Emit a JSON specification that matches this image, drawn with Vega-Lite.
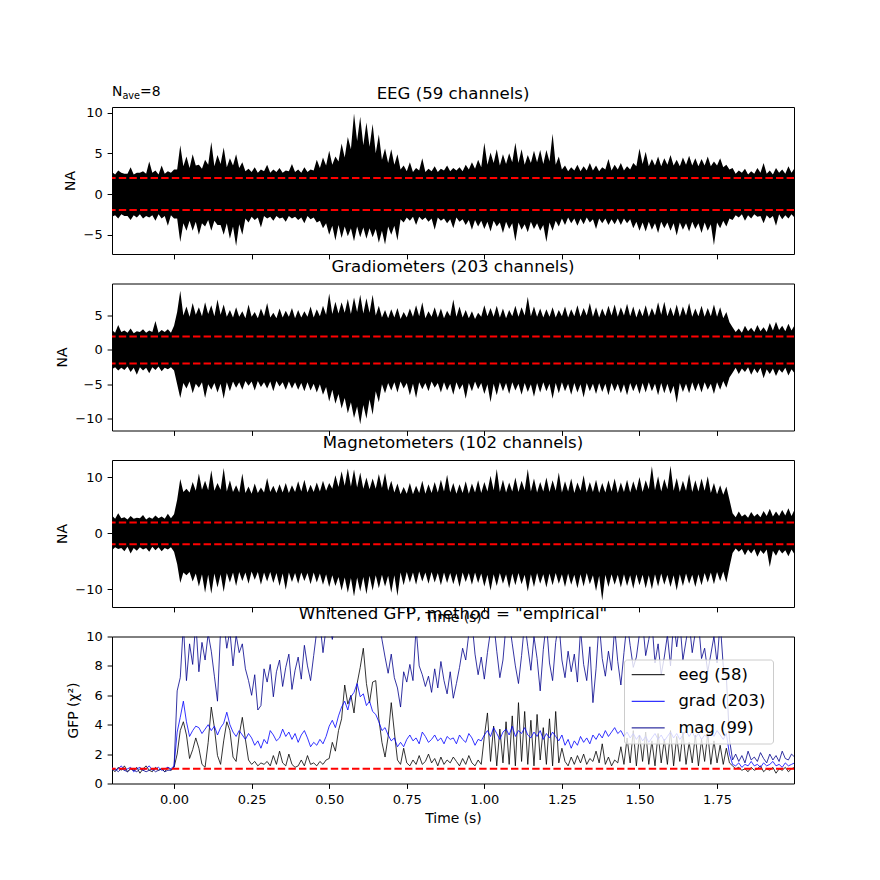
{
"$schema": "https://vega.github.io/schema/vega-lite/v6.json",
"background": "white",
"padding": {"left": 54, "top": 84, "right": 5, "bottom": 5},
"bounds": "flush",
"spacing": 29.5,
"resolve": {"scale": {"color": "independent"}, "legend": {"color": "independent"}},
"config": {
 "font": "DejaVu Sans",
 "view": {"stroke": "black", "strokeWidth": 1},
 "axis": {"domain": false, "grid": false, "tickColor": "black", "tickSize": 4.9, "tickWidth": 1, "labelColor": "black", "labelFontSize": 13, "labelPadding": 4.9, "labelFlush": false, "labelOverlap": false, "titleFontSize": 13.9, "titleFontWeight": "normal", "titleColor": "black", "titlePadding": 5.6},
 "title": {"fontSize": 16.6, "fontWeight": "normal", "color": "black", "frame": "group", "offset": 8.3, "baseline": "alphabetic"}
},
"datasets": {
 "p1": [
{"t":-0.20,"lo":-2.8,"hi":2.7},{"t":-0.18,"lo":-3.0,"hi":2.9},{"t":-0.16,"lo":-2.7,"hi":2.5},{"t":-0.14,"lo":-3.2,"hi":3.3},{"t":-0.12,"lo":-2.9,"hi":2.6},{"t":-0.10,"lo":-3.0,"hi":2.8},{"t":-0.08,"lo":-2.9,"hi":4.0},{"t":-0.06,"lo":-3.3,"hi":2.9},{"t":-0.04,"lo":-3.0,"hi":3.5},{"t":-0.02,"lo":-3.9,"hi":2.8},
{"t":0.00,"lo":-3.0,"hi":3.0},{"t":0.02,"lo":-5.9,"hi":6.0},{"t":0.04,"lo":-4.5,"hi":4.6},{"t":0.06,"lo":-4.5,"hi":4.9},{"t":0.08,"lo":-5.0,"hi":3.6},{"t":0.10,"lo":-4.0,"hi":4.2},{"t":0.12,"lo":-4.5,"hi":6.4},{"t":0.14,"lo":-3.8,"hi":4.8},{"t":0.16,"lo":-5.0,"hi":5.7},{"t":0.18,"lo":-5.5,"hi":4.4},
{"t":0.20,"lo":-6.4,"hi":4.9},{"t":0.22,"lo":-5.0,"hi":3.9},{"t":0.24,"lo":-3.5,"hi":3.1},{"t":0.26,"lo":-3.2,"hi":3.3},{"t":0.28,"lo":-4.1,"hi":3.0},{"t":0.30,"lo":-3.0,"hi":3.6},{"t":0.32,"lo":-3.3,"hi":3.0},{"t":0.34,"lo":-3.0,"hi":3.2},{"t":0.36,"lo":-3.4,"hi":2.9},{"t":0.38,"lo":-3.0,"hi":3.7},
{"t":0.40,"lo":-3.2,"hi":3.0},{"t":0.42,"lo":-3.6,"hi":3.3},{"t":0.44,"lo":-3.1,"hi":3.0},{"t":0.46,"lo":-3.5,"hi":4.2},{"t":0.48,"lo":-4.2,"hi":4.5},{"t":0.50,"lo":-5.0,"hi":5.3},{"t":0.52,"lo":-5.7,"hi":4.6},{"t":0.54,"lo":-5.4,"hi":6.2},{"t":0.56,"lo":-5.2,"hi":7.0},{"t":0.58,"lo":-5.8,"hi":9.9},
{"t":0.60,"lo":-5.3,"hi":9.5},{"t":0.62,"lo":-5.5,"hi":8.8},{"t":0.64,"lo":-5.3,"hi":8.6},{"t":0.66,"lo":-6.0,"hi":7.3},{"t":0.68,"lo":-6.2,"hi":5.6},{"t":0.70,"lo":-5.0,"hi":5.5},{"t":0.72,"lo":-5.7,"hi":4.9},{"t":0.74,"lo":-3.5,"hi":3.5},{"t":0.76,"lo":-3.3,"hi":3.9},{"t":0.78,"lo":-3.8,"hi":3.2},
{"t":0.80,"lo":-3.2,"hi":4.4},{"t":0.82,"lo":-3.4,"hi":3.1},{"t":0.84,"lo":-4.4,"hi":3.4},{"t":0.86,"lo":-3.3,"hi":3.1},{"t":0.88,"lo":-3.6,"hi":3.5},{"t":0.90,"lo":-4.2,"hi":3.2},{"t":0.92,"lo":-3.4,"hi":3.3},{"t":0.94,"lo":-3.8,"hi":3.6},{"t":0.96,"lo":-4.4,"hi":3.9},{"t":0.98,"lo":-4.0,"hi":4.2},
{"t":1.00,"lo":-4.3,"hi":6.3},{"t":1.02,"lo":-4.6,"hi":5.1},{"t":1.04,"lo":-4.0,"hi":5.5},{"t":1.06,"lo":-4.8,"hi":4.9},{"t":1.08,"lo":-4.3,"hi":5.0},{"t":1.10,"lo":-5.8,"hi":6.3},{"t":1.12,"lo":-4.4,"hi":5.5},{"t":1.14,"lo":-4.7,"hi":4.8},{"t":1.16,"lo":-4.3,"hi":5.3},{"t":1.18,"lo":-4.5,"hi":5.4},
{"t":1.20,"lo":-5.9,"hi":5.4},{"t":1.22,"lo":-4.5,"hi":7.4},{"t":1.24,"lo":-4.0,"hi":4.6},{"t":1.26,"lo":-3.8,"hi":3.5},{"t":1.28,"lo":-3.6,"hi":3.3},{"t":1.30,"lo":-3.9,"hi":3.6},{"t":1.32,"lo":-3.7,"hi":3.4},{"t":1.34,"lo":-3.5,"hi":3.8},{"t":1.36,"lo":-4.3,"hi":3.5},{"t":1.38,"lo":-3.6,"hi":3.3},
{"t":1.40,"lo":-3.8,"hi":4.3},{"t":1.42,"lo":-3.7,"hi":3.6},{"t":1.44,"lo":-3.8,"hi":3.8},{"t":1.46,"lo":-3.6,"hi":3.4},{"t":1.48,"lo":-4.2,"hi":3.8},{"t":1.50,"lo":-4.5,"hi":5.6},{"t":1.52,"lo":-4.6,"hi":5.2},{"t":1.54,"lo":-4.4,"hi":4.3},{"t":1.56,"lo":-4.8,"hi":4.6},{"t":1.58,"lo":-4.2,"hi":4.4},
{"t":1.60,"lo":-4.5,"hi":4.8},{"t":1.62,"lo":-5.1,"hi":4.2},{"t":1.64,"lo":-4.4,"hi":4.5},{"t":1.66,"lo":-4.6,"hi":4.7},{"t":1.68,"lo":-4.3,"hi":4.4},{"t":1.70,"lo":-4.8,"hi":4.3},{"t":1.72,"lo":-4.5,"hi":4.6},{"t":1.74,"lo":-6.3,"hi":4.0},{"t":1.76,"lo":-4.2,"hi":4.4},{"t":1.78,"lo":-4.0,"hi":3.6},
{"t":1.80,"lo":-3.2,"hi":3.2},{"t":1.82,"lo":-2.9,"hi":2.9},{"t":1.84,"lo":-3.3,"hi":3.1},{"t":1.86,"lo":-3.0,"hi":2.8},{"t":1.88,"lo":-2.8,"hi":3.2},{"t":1.90,"lo":-3.6,"hi":3.8},{"t":1.92,"lo":-3.0,"hi":2.9},{"t":1.94,"lo":-3.9,"hi":3.2},{"t":1.96,"lo":-3.1,"hi":3.0},{"t":1.98,"lo":-3.0,"hi":3.4},{"t":2.00,"lo":-2.9,"hi":3.2},
{"t":-0.19,"lo":-2.6,"hi":2.4},{"t":-0.17,"lo":-2.5,"hi":2.6},{"t":-0.15,"lo":-2.7,"hi":2.5},{"t":-0.13,"lo":-2.6,"hi":2.4},{"t":-0.11,"lo":-2.5,"hi":2.6},{"t":-0.09,"lo":-2.7,"hi":2.5},{"t":-0.07,"lo":-2.6,"hi":2.6},{"t":-0.05,"lo":-2.5,"hi":2.4},{"t":-0.03,"lo":-2.7,"hi":2.5},{"t":-0.01,"lo":-2.6,"hi":2.6},
{"t":0.01,"lo":-3.0,"hi":3.0},{"t":0.03,"lo":-3.6,"hi":3.4},{"t":0.05,"lo":-3.3,"hi":3.2},{"t":0.07,"lo":-3.4,"hi":3.5},{"t":0.09,"lo":-3.6,"hi":3.1},{"t":0.11,"lo":-3.2,"hi":3.6},{"t":0.13,"lo":-3.3,"hi":3.4},{"t":0.15,"lo":-3.8,"hi":3.7},{"t":0.17,"lo":-3.6,"hi":3.3},{"t":0.19,"lo":-4.0,"hi":3.5},
{"t":0.21,"lo":-3.7,"hi":3.2},{"t":0.23,"lo":-3.0,"hi":2.8},{"t":0.25,"lo":-2.8,"hi":2.7},{"t":0.27,"lo":-2.9,"hi":2.6},{"t":0.29,"lo":-2.7,"hi":2.8},{"t":0.31,"lo":-2.8,"hi":2.6},{"t":0.33,"lo":-2.7,"hi":2.7},{"t":0.35,"lo":-2.9,"hi":2.6},{"t":0.37,"lo":-2.7,"hi":2.8},{"t":0.39,"lo":-2.8,"hi":2.7},
{"t":0.41,"lo":-2.9,"hi":2.6},{"t":0.43,"lo":-2.7,"hi":2.7},{"t":0.45,"lo":-2.9,"hi":2.9},{"t":0.47,"lo":-3.3,"hi":3.2},{"t":0.49,"lo":-3.6,"hi":3.5},{"t":0.51,"lo":-3.9,"hi":3.6},{"t":0.53,"lo":-3.8,"hi":4.0},{"t":0.55,"lo":-4.0,"hi":4.5},{"t":0.57,"lo":-4.2,"hi":5.5},{"t":0.59,"lo":-4.0,"hi":6.5},
{"t":0.61,"lo":-4.1,"hi":6.0},{"t":0.63,"lo":-4.2,"hi":5.8},{"t":0.65,"lo":-4.3,"hi":5.0},{"t":0.67,"lo":-4.5,"hi":4.2},{"t":0.69,"lo":-4.0,"hi":3.8},{"t":0.71,"lo":-3.9,"hi":3.6},{"t":0.73,"lo":-3.1,"hi":3.0},{"t":0.75,"lo":-2.9,"hi":2.8},{"t":0.77,"lo":-2.8,"hi":2.7},{"t":0.79,"lo":-2.8,"hi":2.9},
{"t":0.81,"lo":-2.9,"hi":2.7},{"t":0.83,"lo":-3.0,"hi":2.8},{"t":0.85,"lo":-2.9,"hi":2.7},{"t":0.87,"lo":-3.0,"hi":2.9},{"t":0.89,"lo":-3.1,"hi":2.8},{"t":0.91,"lo":-2.9,"hi":2.9},{"t":0.93,"lo":-3.1,"hi":2.8},{"t":0.95,"lo":-3.2,"hi":3.0},{"t":0.97,"lo":-3.2,"hi":3.1},{"t":0.99,"lo":-3.3,"hi":3.3},
{"t":1.01,"lo":-3.4,"hi":3.6},{"t":1.03,"lo":-3.3,"hi":3.8},{"t":1.05,"lo":-3.5,"hi":3.5},{"t":1.07,"lo":-3.4,"hi":3.7},{"t":1.09,"lo":-3.6,"hi":3.9},{"t":1.11,"lo":-3.5,"hi":3.8},{"t":1.13,"lo":-3.7,"hi":3.6},{"t":1.15,"lo":-3.4,"hi":3.8},{"t":1.17,"lo":-3.6,"hi":3.9},{"t":1.19,"lo":-3.8,"hi":3.7},
{"t":1.21,"lo":-3.5,"hi":4.0},{"t":1.23,"lo":-3.3,"hi":3.6},{"t":1.25,"lo":-3.0,"hi":3.0},{"t":1.27,"lo":-2.9,"hi":2.8},{"t":1.29,"lo":-3.0,"hi":2.9},{"t":1.31,"lo":-3.0,"hi":2.8},{"t":1.33,"lo":-2.9,"hi":2.9},{"t":1.35,"lo":-3.1,"hi":2.9},{"t":1.37,"lo":-3.0,"hi":2.8},{"t":1.39,"lo":-3.0,"hi":3.0},
{"t":1.41,"lo":-3.1,"hi":2.9},{"t":1.43,"lo":-3.0,"hi":3.0},{"t":1.45,"lo":-3.0,"hi":2.9},{"t":1.47,"lo":-3.1,"hi":3.0},{"t":1.49,"lo":-3.4,"hi":3.4},{"t":1.51,"lo":-3.5,"hi":3.7},{"t":1.53,"lo":-3.4,"hi":3.4},{"t":1.55,"lo":-3.6,"hi":3.5},{"t":1.57,"lo":-3.4,"hi":3.4},{"t":1.59,"lo":-3.5,"hi":3.6},
{"t":1.61,"lo":-3.6,"hi":3.5},{"t":1.63,"lo":-3.5,"hi":3.4},{"t":1.65,"lo":-3.6,"hi":3.6},{"t":1.67,"lo":-3.4,"hi":3.5},{"t":1.69,"lo":-3.6,"hi":3.4},{"t":1.71,"lo":-3.5,"hi":3.5},{"t":1.73,"lo":-3.7,"hi":3.4},{"t":1.75,"lo":-3.5,"hi":3.5},{"t":1.77,"lo":-3.3,"hi":3.3},{"t":1.79,"lo":-3.0,"hi":3.0},
{"t":1.81,"lo":-2.6,"hi":2.5},{"t":1.83,"lo":-2.5,"hi":2.6},{"t":1.85,"lo":-2.6,"hi":2.4},{"t":1.87,"lo":-2.5,"hi":2.5},{"t":1.89,"lo":-2.7,"hi":2.6},{"t":1.91,"lo":-2.6,"hi":2.5},{"t":1.93,"lo":-2.7,"hi":2.4},{"t":1.95,"lo":-2.5,"hi":2.6},{"t":1.97,"lo":-2.6,"hi":2.5},{"t":1.99,"lo":-2.5,"hi":2.6}
 ],
 "p2": [
{"t":-0.20,"lo":-2.8,"hi":2.9},{"t":-0.18,"lo":-3.0,"hi":3.6},{"t":-0.16,"lo":-2.9,"hi":2.8},{"t":-0.14,"lo":-3.2,"hi":3.1},{"t":-0.12,"lo":-3.6,"hi":2.7},{"t":-0.10,"lo":-3.0,"hi":3.0},{"t":-0.08,"lo":-3.4,"hi":2.8},{"t":-0.06,"lo":-2.9,"hi":4.2},{"t":-0.04,"lo":-3.1,"hi":2.9},{"t":-0.02,"lo":-2.8,"hi":3.0},
{"t":0.00,"lo":-3.0,"hi":3.5},{"t":0.02,"lo":-7.0,"hi":8.6},{"t":0.04,"lo":-5.6,"hi":6.3},{"t":0.06,"lo":-6.3,"hi":6.8},{"t":0.08,"lo":-5.5,"hi":6.2},{"t":0.10,"lo":-7.0,"hi":6.9},{"t":0.12,"lo":-5.8,"hi":6.5},{"t":0.14,"lo":-6.2,"hi":7.3},{"t":0.16,"lo":-7.1,"hi":6.6},{"t":0.18,"lo":-6.0,"hi":5.8},
{"t":0.20,"lo":-5.5,"hi":6.2},{"t":0.22,"lo":-5.8,"hi":5.6},{"t":0.24,"lo":-5.2,"hi":6.6},{"t":0.26,"lo":-5.9,"hi":5.5},{"t":0.28,"lo":-5.4,"hi":6.0},{"t":0.30,"lo":-5.6,"hi":6.8},{"t":0.32,"lo":-6.0,"hi":5.4},{"t":0.34,"lo":-5.3,"hi":6.0},{"t":0.36,"lo":-5.8,"hi":5.7},{"t":0.38,"lo":-5.6,"hi":6.1},
{"t":0.40,"lo":-5.8,"hi":5.8},{"t":0.42,"lo":-6.0,"hi":5.6},{"t":0.44,"lo":-5.9,"hi":6.3},{"t":0.46,"lo":-6.2,"hi":5.9},{"t":0.48,"lo":-6.5,"hi":6.4},{"t":0.50,"lo":-7.5,"hi":8.2},{"t":0.52,"lo":-7.8,"hi":7.0},{"t":0.54,"lo":-8.5,"hi":6.9},{"t":0.56,"lo":-9.2,"hi":7.4},{"t":0.58,"lo":-9.9,"hi":7.6},
{"t":0.60,"lo":-10.8,"hi":8.0},{"t":0.62,"lo":-10.0,"hi":7.5},{"t":0.64,"lo":-9.4,"hi":8.0},{"t":0.66,"lo":-7.6,"hi":6.4},{"t":0.68,"lo":-6.3,"hi":5.8},{"t":0.70,"lo":-5.9,"hi":5.9},{"t":0.72,"lo":-6.2,"hi":6.1},{"t":0.74,"lo":-5.6,"hi":5.5},{"t":0.76,"lo":-6.6,"hi":6.0},{"t":0.78,"lo":-7.0,"hi":6.5},
{"t":0.80,"lo":-5.7,"hi":6.9},{"t":0.82,"lo":-6.0,"hi":5.6},{"t":0.84,"lo":-5.5,"hi":6.2},{"t":0.86,"lo":-6.2,"hi":6.0},{"t":0.88,"lo":-5.9,"hi":5.7},{"t":0.90,"lo":-6.5,"hi":7.3},{"t":0.92,"lo":-5.8,"hi":6.3},{"t":0.94,"lo":-7.1,"hi":5.8},{"t":0.96,"lo":-6.0,"hi":5.6},{"t":0.98,"lo":-5.7,"hi":5.4},
{"t":1.00,"lo":-6.4,"hi":6.5},{"t":1.02,"lo":-7.6,"hi":6.1},{"t":1.04,"lo":-6.6,"hi":6.4},{"t":1.06,"lo":-6.0,"hi":6.0},{"t":1.08,"lo":-6.4,"hi":5.8},{"t":1.10,"lo":-5.9,"hi":6.4},{"t":1.12,"lo":-6.5,"hi":6.2},{"t":1.14,"lo":-6.1,"hi":7.7},{"t":1.16,"lo":-6.8,"hi":6.3},{"t":1.18,"lo":-6.2,"hi":6.0},
{"t":1.20,"lo":-6.0,"hi":5.9},{"t":1.22,"lo":-7.1,"hi":6.2},{"t":1.24,"lo":-6.3,"hi":5.8},{"t":1.26,"lo":-6.0,"hi":6.3},{"t":1.28,"lo":-6.5,"hi":5.9},{"t":1.30,"lo":-6.2,"hi":6.5},{"t":1.32,"lo":-6.9,"hi":6.1},{"t":1.34,"lo":-6.0,"hi":6.8},{"t":1.36,"lo":-6.4,"hi":6.2},{"t":1.38,"lo":-6.1,"hi":6.0},
{"t":1.40,"lo":-6.6,"hi":6.4},{"t":1.42,"lo":-6.0,"hi":6.6},{"t":1.44,"lo":-6.3,"hi":6.2},{"t":1.46,"lo":-6.6,"hi":6.7},{"t":1.48,"lo":-6.0,"hi":6.3},{"t":1.50,"lo":-6.4,"hi":6.0},{"t":1.52,"lo":-6.2,"hi":6.5},{"t":1.54,"lo":-6.0,"hi":6.1},{"t":1.56,"lo":-6.6,"hi":6.9},{"t":1.58,"lo":-6.3,"hi":7.0},
{"t":1.60,"lo":-6.4,"hi":6.2},{"t":1.62,"lo":-7.7,"hi":6.6},{"t":1.64,"lo":-6.1,"hi":6.3},{"t":1.66,"lo":-6.3,"hi":6.8},{"t":1.68,"lo":-6.0,"hi":6.0},{"t":1.70,"lo":-6.2,"hi":6.4},{"t":1.72,"lo":-5.8,"hi":6.1},{"t":1.74,"lo":-6.4,"hi":6.6},{"t":1.76,"lo":-5.8,"hi":6.2},{"t":1.78,"lo":-5.5,"hi":5.5},
{"t":1.80,"lo":-3.3,"hi":3.3},{"t":1.82,"lo":-3.5,"hi":3.1},{"t":1.84,"lo":-3.2,"hi":3.5},{"t":1.86,"lo":-3.6,"hi":3.2},{"t":1.88,"lo":-3.4,"hi":3.6},{"t":1.90,"lo":-4.1,"hi":3.3},{"t":1.92,"lo":-3.5,"hi":3.9},{"t":1.94,"lo":-3.8,"hi":4.1},{"t":1.96,"lo":-3.3,"hi":3.5},{"t":1.98,"lo":-3.7,"hi":3.8},{"t":2.00,"lo":-3.4,"hi":3.6},
{"t":-0.19,"lo":-2.5,"hi":2.5},{"t":-0.17,"lo":-2.6,"hi":2.6},{"t":-0.15,"lo":-2.4,"hi":2.5},{"t":-0.13,"lo":-2.6,"hi":2.4},{"t":-0.11,"lo":-2.5,"hi":2.6},{"t":-0.09,"lo":-2.6,"hi":2.5},{"t":-0.07,"lo":-2.5,"hi":2.6},{"t":-0.05,"lo":-2.4,"hi":2.5},{"t":-0.03,"lo":-2.6,"hi":2.6},{"t":-0.01,"lo":-2.5,"hi":2.5},
{"t":0.01,"lo":-5.0,"hi":5.5},{"t":0.03,"lo":-4.8,"hi":5.0},{"t":0.05,"lo":-4.6,"hi":4.8},{"t":0.07,"lo":-4.9,"hi":5.1},{"t":0.09,"lo":-4.7,"hi":4.9},{"t":0.11,"lo":-5.0,"hi":5.2},{"t":0.13,"lo":-4.8,"hi":4.9},{"t":0.15,"lo":-4.9,"hi":5.1},{"t":0.17,"lo":-4.7,"hi":4.8},{"t":0.19,"lo":-4.6,"hi":4.7},
{"t":0.21,"lo":-4.7,"hi":4.8},{"t":0.23,"lo":-4.5,"hi":4.6},{"t":0.25,"lo":-4.6,"hi":4.8},{"t":0.27,"lo":-4.5,"hi":4.6},{"t":0.29,"lo":-4.7,"hi":4.9},{"t":0.31,"lo":-4.6,"hi":4.7},{"t":0.33,"lo":-4.5,"hi":4.6},{"t":0.35,"lo":-4.7,"hi":4.7},{"t":0.37,"lo":-4.6,"hi":4.8},{"t":0.39,"lo":-4.7,"hi":4.6},
{"t":0.41,"lo":-4.8,"hi":4.7},{"t":0.43,"lo":-4.7,"hi":4.8},{"t":0.45,"lo":-4.9,"hi":4.7},{"t":0.47,"lo":-5.0,"hi":4.9},{"t":0.49,"lo":-5.4,"hi":5.1},{"t":0.51,"lo":-5.8,"hi":5.2},{"t":0.53,"lo":-6.4,"hi":5.3},{"t":0.55,"lo":-7.0,"hi":5.4},{"t":0.57,"lo":-7.6,"hi":5.2},{"t":0.59,"lo":-8.2,"hi":5.5},
{"t":0.61,"lo":-8.0,"hi":5.3},{"t":0.63,"lo":-7.2,"hi":5.4},{"t":0.65,"lo":-6.0,"hi":5.0},{"t":0.67,"lo":-5.0,"hi":4.7},{"t":0.69,"lo":-4.8,"hi":4.6},{"t":0.71,"lo":-4.7,"hi":4.7},{"t":0.73,"lo":-4.6,"hi":4.5},{"t":0.75,"lo":-4.8,"hi":4.7},{"t":0.77,"lo":-4.9,"hi":4.8},{"t":0.79,"lo":-4.7,"hi":4.9},
{"t":0.81,"lo":-4.8,"hi":4.6},{"t":0.83,"lo":-4.6,"hi":4.8},{"t":0.85,"lo":-4.8,"hi":4.7},{"t":0.87,"lo":-4.7,"hi":4.6},{"t":0.89,"lo":-4.9,"hi":4.9},{"t":0.91,"lo":-4.7,"hi":4.8},{"t":0.93,"lo":-5.0,"hi":4.7},{"t":0.95,"lo":-4.8,"hi":4.6},{"t":0.97,"lo":-4.6,"hi":4.5},{"t":0.99,"lo":-4.8,"hi":4.8},
{"t":1.01,"lo":-5.0,"hi":4.9},{"t":1.03,"lo":-4.9,"hi":4.8},{"t":1.05,"lo":-4.7,"hi":4.7},{"t":1.07,"lo":-4.8,"hi":4.6},{"t":1.09,"lo":-4.7,"hi":4.9},{"t":1.11,"lo":-4.9,"hi":4.8},{"t":1.13,"lo":-4.8,"hi":5.0},{"t":1.15,"lo":-5.0,"hi":4.9},{"t":1.17,"lo":-4.8,"hi":4.8},{"t":1.19,"lo":-4.7,"hi":4.7},
{"t":1.21,"lo":-4.9,"hi":4.8},{"t":1.23,"lo":-4.8,"hi":4.7},{"t":1.25,"lo":-4.7,"hi":4.9},{"t":1.27,"lo":-4.9,"hi":4.7},{"t":1.29,"lo":-4.8,"hi":4.9},{"t":1.31,"lo":-5.0,"hi":4.8},{"t":1.33,"lo":-4.8,"hi":5.0},{"t":1.35,"lo":-4.9,"hi":4.8},{"t":1.37,"lo":-4.8,"hi":4.7},{"t":1.39,"lo":-4.9,"hi":4.9},
{"t":1.41,"lo":-4.8,"hi":5.0},{"t":1.43,"lo":-4.9,"hi":4.8},{"t":1.45,"lo":-5.0,"hi":5.0},{"t":1.47,"lo":-4.8,"hi":4.9},{"t":1.49,"lo":-4.9,"hi":4.7},{"t":1.51,"lo":-4.8,"hi":4.9},{"t":1.53,"lo":-4.7,"hi":4.8},{"t":1.55,"lo":-4.9,"hi":5.0},{"t":1.57,"lo":-4.8,"hi":5.1},{"t":1.59,"lo":-4.9,"hi":4.9},
{"t":1.61,"lo":-5.2,"hi":4.9},{"t":1.63,"lo":-4.8,"hi":4.8},{"t":1.65,"lo":-4.9,"hi":5.0},{"t":1.67,"lo":-4.7,"hi":4.8},{"t":1.69,"lo":-4.8,"hi":4.9},{"t":1.71,"lo":-4.7,"hi":4.8},{"t":1.73,"lo":-4.9,"hi":4.9},{"t":1.75,"lo":-4.7,"hi":4.8},{"t":1.77,"lo":-4.5,"hi":4.6},{"t":1.79,"lo":-4.0,"hi":4.0},
{"t":1.81,"lo":-2.6,"hi":2.6},{"t":1.83,"lo":-2.7,"hi":2.5},{"t":1.85,"lo":-2.5,"hi":2.7},{"t":1.87,"lo":-2.7,"hi":2.6},{"t":1.89,"lo":-2.6,"hi":2.7},{"t":1.91,"lo":-2.8,"hi":2.6},{"t":1.93,"lo":-2.7,"hi":2.8},{"t":1.95,"lo":-2.8,"hi":2.9},{"t":1.97,"lo":-2.6,"hi":2.7},{"t":1.99,"lo":-2.8,"hi":2.8}
 ],
 "p3": [
{"t":-0.20,"lo":-3.0,"hi":3.2},{"t":-0.18,"lo":-2.8,"hi":3.6},{"t":-0.16,"lo":-3.2,"hi":2.9},{"t":-0.14,"lo":-3.6,"hi":3.1},{"t":-0.12,"lo":-3.1,"hi":2.8},{"t":-0.10,"lo":-2.9,"hi":3.3},{"t":-0.08,"lo":-3.3,"hi":2.9},{"t":-0.06,"lo":-3.0,"hi":3.2},{"t":-0.04,"lo":-3.2,"hi":3.0},{"t":-0.02,"lo":-2.9,"hi":3.5},
{"t":0.00,"lo":-3.3,"hi":3.4},{"t":0.02,"lo":-8.9,"hi":9.7},{"t":0.04,"lo":-7.5,"hi":8.0},{"t":0.06,"lo":-8.6,"hi":9.2},{"t":0.08,"lo":-9.5,"hi":10.7},{"t":0.10,"lo":-10.6,"hi":9.4},{"t":0.12,"lo":-10.8,"hi":11.3},{"t":0.14,"lo":-9.7,"hi":9.0},{"t":0.16,"lo":-10.5,"hi":11.7},{"t":0.18,"lo":-8.8,"hi":9.5},
{"t":0.20,"lo":-9.4,"hi":8.6},{"t":0.22,"lo":-8.5,"hi":10.7},{"t":0.24,"lo":-9.0,"hi":8.4},{"t":0.26,"lo":-8.3,"hi":8.9},{"t":0.28,"lo":-9.2,"hi":8.2},{"t":0.30,"lo":-8.6,"hi":9.9},{"t":0.32,"lo":-8.9,"hi":8.5},{"t":0.34,"lo":-9.4,"hi":8.8},{"t":0.36,"lo":-10.1,"hi":9.0},{"t":0.38,"lo":-8.7,"hi":8.6},
{"t":0.40,"lo":-9.0,"hi":9.3},{"t":0.42,"lo":-8.5,"hi":9.6},{"t":0.44,"lo":-9.1,"hi":8.7},{"t":0.46,"lo":-8.8,"hi":9.1},{"t":0.48,"lo":-9.2,"hi":9.4},{"t":0.50,"lo":-9.6,"hi":9.0},{"t":0.52,"lo":-9.4,"hi":10.4},{"t":0.54,"lo":-10.2,"hi":11.1},{"t":0.56,"lo":-10.6,"hi":11.6},{"t":0.58,"lo":-11.3,"hi":11.4},
{"t":0.60,"lo":-10.4,"hi":10.9},{"t":0.62,"lo":-10.9,"hi":10.0},{"t":0.64,"lo":-10.2,"hi":9.8},{"t":0.66,"lo":-9.8,"hi":10.6},{"t":0.68,"lo":-9.5,"hi":10.8},{"t":0.70,"lo":-10.6,"hi":9.4},{"t":0.72,"lo":-11.2,"hi":8.9},{"t":0.74,"lo":-9.3,"hi":8.3},{"t":0.76,"lo":-8.8,"hi":9.0},{"t":0.78,"lo":-9.2,"hi":8.5},
{"t":0.80,"lo":-8.6,"hi":9.4},{"t":0.82,"lo":-9.0,"hi":8.8},{"t":0.84,"lo":-8.8,"hi":9.2},{"t":0.86,"lo":-9.3,"hi":9.6},{"t":0.88,"lo":-8.9,"hi":10.5},{"t":0.90,"lo":-9.1,"hi":9.0},{"t":0.92,"lo":-9.6,"hi":8.8},{"t":0.94,"lo":-8.7,"hi":9.3},{"t":0.96,"lo":-9.2,"hi":8.9},{"t":0.98,"lo":-8.9,"hi":9.5},
{"t":1.00,"lo":-9.5,"hi":9.2},{"t":1.02,"lo":-10.2,"hi":10.3},{"t":1.04,"lo":-9.4,"hi":11.5},{"t":1.06,"lo":-9.0,"hi":9.6},{"t":1.08,"lo":-9.8,"hi":9.1},{"t":1.10,"lo":-9.3,"hi":10.0},{"t":1.12,"lo":-9.1,"hi":9.4},{"t":1.14,"lo":-10.4,"hi":11.5},{"t":1.16,"lo":-9.6,"hi":9.8},{"t":1.18,"lo":-9.0,"hi":9.2},
{"t":1.20,"lo":-9.7,"hi":10.0},{"t":1.22,"lo":-9.3,"hi":9.5},{"t":1.24,"lo":-9.0,"hi":10.9},{"t":1.26,"lo":-9.6,"hi":9.3},{"t":1.28,"lo":-9.2,"hi":9.8},{"t":1.30,"lo":-9.8,"hi":9.1},{"t":1.32,"lo":-9.5,"hi":10.4},{"t":1.34,"lo":-9.1,"hi":9.2},{"t":1.36,"lo":-10.3,"hi":9.6},{"t":1.38,"lo":-12.0,"hi":9.0},
{"t":1.40,"lo":-9.6,"hi":9.5},{"t":1.42,"lo":-9.2,"hi":9.8},{"t":1.44,"lo":-9.7,"hi":9.1},{"t":1.46,"lo":-9.4,"hi":9.6},{"t":1.48,"lo":-9.9,"hi":9.3},{"t":1.50,"lo":-9.3,"hi":10.1},{"t":1.52,"lo":-9.8,"hi":9.5},{"t":1.54,"lo":-10.0,"hi":12.0},{"t":1.56,"lo":-9.5,"hi":10.2},{"t":1.58,"lo":-9.2,"hi":9.7},
{"t":1.60,"lo":-9.6,"hi":12.1},{"t":1.62,"lo":-10.2,"hi":9.9},{"t":1.64,"lo":-9.4,"hi":9.4},{"t":1.66,"lo":-9.0,"hi":10.6},{"t":1.68,"lo":-9.6,"hi":9.5},{"t":1.70,"lo":-9.3,"hi":9.8},{"t":1.72,"lo":-8.8,"hi":10.2},{"t":1.74,"lo":-9.1,"hi":9.0},{"t":1.76,"lo":-8.5,"hi":8.6},{"t":1.78,"lo":-8.8,"hi":8.4},
{"t":1.80,"lo":-3.5,"hi":3.6},{"t":1.82,"lo":-3.3,"hi":3.9},{"t":1.84,"lo":-3.9,"hi":3.4},{"t":1.86,"lo":-3.6,"hi":3.8},{"t":1.88,"lo":-4.2,"hi":3.5},{"t":1.90,"lo":-3.7,"hi":4.0},{"t":1.92,"lo":-6.0,"hi":4.4},{"t":1.94,"lo":-4.0,"hi":3.9},{"t":1.96,"lo":-3.6,"hi":4.2},{"t":1.98,"lo":-4.1,"hi":4.5},{"t":2.00,"lo":-3.8,"hi":4.3},
{"t":-0.19,"lo":-2.5,"hi":2.6},{"t":-0.17,"lo":-2.6,"hi":2.7},{"t":-0.15,"lo":-2.4,"hi":2.5},{"t":-0.13,"lo":-2.6,"hi":2.6},{"t":-0.11,"lo":-2.5,"hi":2.7},{"t":-0.09,"lo":-2.6,"hi":2.5},{"t":-0.07,"lo":-2.4,"hi":2.6},{"t":-0.05,"lo":-2.5,"hi":2.7},{"t":-0.03,"lo":-2.6,"hi":2.6},{"t":-0.01,"lo":-2.5,"hi":2.7},
{"t":0.01,"lo":-5.5,"hi":6.0},{"t":0.03,"lo":-7.0,"hi":7.4},{"t":0.05,"lo":-6.9,"hi":7.3},{"t":0.07,"lo":-7.2,"hi":7.6},{"t":0.09,"lo":-7.3,"hi":7.8},{"t":0.11,"lo":-7.4,"hi":7.7},{"t":0.13,"lo":-7.2,"hi":7.6},{"t":0.15,"lo":-7.3,"hi":7.8},{"t":0.17,"lo":-7.1,"hi":7.5},{"t":0.19,"lo":-7.0,"hi":7.4},
{"t":0.21,"lo":-6.9,"hi":7.3},{"t":0.23,"lo":-7.0,"hi":7.2},{"t":0.25,"lo":-6.8,"hi":7.1},{"t":0.27,"lo":-6.9,"hi":7.2},{"t":0.29,"lo":-7.0,"hi":7.3},{"t":0.31,"lo":-6.9,"hi":7.4},{"t":0.33,"lo":-7.1,"hi":7.2},{"t":0.35,"lo":-7.2,"hi":7.3},{"t":0.37,"lo":-7.0,"hi":7.2},{"t":0.39,"lo":-7.1,"hi":7.4},
{"t":0.41,"lo":-7.0,"hi":7.5},{"t":0.43,"lo":-7.1,"hi":7.3},{"t":0.45,"lo":-7.0,"hi":7.4},{"t":0.47,"lo":-7.2,"hi":7.5},{"t":0.49,"lo":-7.3,"hi":7.6},{"t":0.51,"lo":-7.5,"hi":8.0},{"t":0.53,"lo":-7.8,"hi":8.3},{"t":0.55,"lo":-7.9,"hi":8.5},{"t":0.57,"lo":-8.0,"hi":8.4},{"t":0.59,"lo":-7.9,"hi":8.2},
{"t":0.61,"lo":-7.8,"hi":8.0},{"t":0.63,"lo":-7.6,"hi":7.9},{"t":0.65,"lo":-7.5,"hi":8.0},{"t":0.67,"lo":-7.4,"hi":8.1},{"t":0.69,"lo":-7.6,"hi":7.6},{"t":0.71,"lo":-7.5,"hi":7.3},{"t":0.73,"lo":-7.0,"hi":7.0},{"t":0.75,"lo":-6.9,"hi":7.1},{"t":0.77,"lo":-7.0,"hi":7.0},{"t":0.79,"lo":-6.8,"hi":7.2},
{"t":0.81,"lo":-7.0,"hi":7.1},{"t":0.83,"lo":-6.9,"hi":7.2},{"t":0.85,"lo":-7.1,"hi":7.3},{"t":0.87,"lo":-7.0,"hi":7.5},{"t":0.89,"lo":-7.1,"hi":7.3},{"t":0.91,"lo":-7.2,"hi":7.1},{"t":0.93,"lo":-7.0,"hi":7.2},{"t":0.95,"lo":-7.1,"hi":7.1},{"t":0.97,"lo":-7.0,"hi":7.3},{"t":0.99,"lo":-7.2,"hi":7.2},
{"t":1.01,"lo":-7.4,"hi":7.5},{"t":1.03,"lo":-7.3,"hi":7.7},{"t":1.05,"lo":-7.1,"hi":7.4},{"t":1.07,"lo":-7.3,"hi":7.3},{"t":1.09,"lo":-7.2,"hi":7.5},{"t":1.11,"lo":-7.1,"hi":7.4},{"t":1.13,"lo":-7.4,"hi":7.7},{"t":1.15,"lo":-7.3,"hi":7.5},{"t":1.17,"lo":-7.1,"hi":7.3},{"t":1.19,"lo":-7.3,"hi":7.5},
{"t":1.21,"lo":-7.2,"hi":7.4},{"t":1.23,"lo":-7.1,"hi":7.6},{"t":1.25,"lo":-7.3,"hi":7.3},{"t":1.27,"lo":-7.2,"hi":7.5},{"t":1.29,"lo":-7.4,"hi":7.2},{"t":1.31,"lo":-7.3,"hi":7.6},{"t":1.33,"lo":-7.1,"hi":7.3},{"t":1.35,"lo":-7.5,"hi":7.4},{"t":1.37,"lo":-7.6,"hi":7.2},{"t":1.39,"lo":-7.4,"hi":7.3},
{"t":1.41,"lo":-7.3,"hi":7.5},{"t":1.43,"lo":-7.4,"hi":7.2},{"t":1.45,"lo":-7.3,"hi":7.4},{"t":1.47,"lo":-7.5,"hi":7.3},{"t":1.49,"lo":-7.3,"hi":7.6},{"t":1.51,"lo":-7.4,"hi":7.4},{"t":1.53,"lo":-7.5,"hi":7.9},{"t":1.55,"lo":-7.3,"hi":7.7},{"t":1.57,"lo":-7.2,"hi":7.5},{"t":1.59,"lo":-7.4,"hi":7.9},
{"t":1.61,"lo":-7.5,"hi":7.6},{"t":1.63,"lo":-7.3,"hi":7.4},{"t":1.65,"lo":-7.2,"hi":7.6},{"t":1.67,"lo":-7.4,"hi":7.4},{"t":1.69,"lo":-7.3,"hi":7.5},{"t":1.71,"lo":-7.1,"hi":7.6},{"t":1.73,"lo":-7.0,"hi":7.2},{"t":1.75,"lo":-6.9,"hi":7.0},{"t":1.77,"lo":-6.8,"hi":6.9},{"t":1.79,"lo":-6.0,"hi":6.0},
{"t":1.81,"lo":-2.7,"hi":2.9},{"t":1.83,"lo":-2.8,"hi":3.0},{"t":1.85,"lo":-2.9,"hi":2.8},{"t":1.87,"lo":-2.8,"hi":3.0},{"t":1.89,"lo":-3.0,"hi":2.9},{"t":1.91,"lo":-2.9,"hi":3.1},{"t":1.93,"lo":-3.1,"hi":3.0},{"t":1.95,"lo":-2.9,"hi":3.1},{"t":1.97,"lo":-3.0,"hi":3.2},{"t":1.99,"lo":-2.9,"hi":3.1}
 ],
 "gfp": [
{"t":-0.20,"eeg":1.0,"grad":1.1,"mag":0.9},{"t":-0.19,"eeg":0.8,"grad":0.9,"mag":1.0},{"t":-0.18,"eeg":1.1,"grad":1.0,"mag":0.8},{"t":-0.17,"eeg":0.9,"grad":1.2,"mag":1.0},{"t":-0.16,"eeg":1.2,"grad":0.9,"mag":0.9},{"t":-0.15,"eeg":0.8,"grad":1.0,"mag":0.8},{"t":-0.14,"eeg":1.0,"grad":1.1,"mag":1.0},{"t":-0.13,"eeg":0.9,"grad":0.8,"mag":0.9},{"t":-0.12,"eeg":1.1,"grad":1.0,"mag":0.8},{"t":-0.11,"eeg":0.7,"grad":1.1,"mag":1.0},
{"t":-0.10,"eeg":1.0,"grad":0.9,"mag":0.9},{"t":-0.09,"eeg":1.2,"grad":1.0,"mag":0.8},{"t":-0.08,"eeg":0.9,"grad":1.2,"mag":0.9},{"t":-0.07,"eeg":0.8,"grad":0.9,"mag":1.0},{"t":-0.06,"eeg":1.1,"grad":1.0,"mag":0.8},{"t":-0.05,"eeg":0.9,"grad":1.1,"mag":0.9},{"t":-0.04,"eeg":1.0,"grad":0.9,"mag":1.0},{"t":-0.03,"eeg":0.8,"grad":1.0,"mag":0.8},{"t":-0.02,"eeg":1.1,"grad":1.1,"mag":0.9},{"t":-0.01,"eeg":0.9,"grad":1.0,"mag":0.9},
{"t":0.00,"eeg":1.1,"grad":1.2,"mag":1.1},{"t":0.01,"eeg":2.0,"grad":3.5,"mag":6.3},{"t":0.02,"eeg":3.6,"grad":4.5,"mag":7.2},{"t":0.03,"eeg":4.2,"grad":5.6,"mag":10.8},{"t":0.04,"eeg":3.3,"grad":4.2,"mag":7.0},{"t":0.05,"eeg":1.7,"grad":3.2,"mag":9.5},{"t":0.06,"eeg":2.3,"grad":3.6,"mag":8.1},{"t":0.07,"eeg":3.1,"grad":3.9,"mag":11},{"t":0.08,"eeg":2.4,"grad":3.8,"mag":7.6},{"t":0.09,"eeg":1.3,"grad":3.4,"mag":9.6},
{"t":0.10,"eeg":1.1,"grad":3.7,"mag":8.4},{"t":0.11,"eeg":2.8,"grad":4.0,"mag":10.2},{"t":0.12,"eeg":5.2,"grad":3.6,"mag":9.0},{"t":0.13,"eeg":3.8,"grad":3.9,"mag":7.3},{"t":0.14,"eeg":1.9,"grad":3.3,"mag":5.6},{"t":0.15,"eeg":1.3,"grad":3.8,"mag":10.5},{"t":0.16,"eeg":2.9,"grad":4.1,"mag":11},{"t":0.17,"eeg":4.2,"grad":4.85,"mag":9.2},{"t":0.18,"eeg":3.6,"grad":4.0,"mag":10.4},{"t":0.19,"eeg":1.8,"grad":3.5,"mag":8.0},
{"t":0.20,"eeg":1.5,"grad":3.2,"mag":10.1},{"t":0.21,"eeg":3.3,"grad":3.6,"mag":8.9},{"t":0.22,"eeg":4.5,"grad":3.3,"mag":9.5},{"t":0.23,"eeg":3.0,"grad":3.0,"mag":7.8},{"t":0.24,"eeg":1.6,"grad":3.4,"mag":7.0},{"t":0.25,"eeg":1.3,"grad":3.1,"mag":6.0},{"t":0.26,"eeg":1.5,"grad":2.6,"mag":7.4},{"t":0.27,"eeg":1.2,"grad":2.9,"mag":5.0},{"t":0.28,"eeg":1.4,"grad":2.4,"mag":5.3},{"t":0.29,"eeg":1.3,"grad":3.0,"mag":7.8},
{"t":0.30,"eeg":1.5,"grad":2.7,"mag":6.9},{"t":0.31,"eeg":1.2,"grad":3.6,"mag":8.1},{"t":0.32,"eeg":1.9,"grad":3.3,"mag":5.9},{"t":0.33,"eeg":1.3,"grad":2.9,"mag":7.6},{"t":0.34,"eeg":2.2,"grad":3.1,"mag":8.4},{"t":0.35,"eeg":1.4,"grad":3.7,"mag":6.6},{"t":0.36,"eeg":1.2,"grad":3.2,"mag":7.9},{"t":0.37,"eeg":2.0,"grad":3.5,"mag":8.8},{"t":0.38,"eeg":1.3,"grad":3.0,"mag":6.4},{"t":0.39,"eeg":1.1,"grad":3.4,"mag":7.7},
{"t":0.40,"eeg":1.2,"grad":2.8,"mag":8.6},{"t":0.41,"eeg":1.6,"grad":3.3,"mag":7.1},{"t":0.42,"eeg":1.2,"grad":3.6,"mag":9.4},{"t":0.43,"eeg":1.9,"grad":3.1,"mag":8.0},{"t":0.44,"eeg":1.3,"grad":2.5,"mag":7.0},{"t":0.45,"eeg":1.4,"grad":2.8,"mag":8.7},{"t":0.46,"eeg":1.2,"grad":2.6,"mag":10.4},{"t":0.47,"eeg":1.5,"grad":3.0,"mag":11},{"t":0.48,"eeg":1.3,"grad":2.7,"mag":8.9},{"t":0.49,"eeg":1.6,"grad":3.2,"mag":10.6},
{"t":0.50,"eeg":1.7,"grad":3.9,"mag":11},{"t":0.51,"eeg":2.8,"grad":4.3,"mag":9.8},{"t":0.52,"eeg":2.2,"grad":3.8,"mag":11},{"t":0.53,"eeg":3.6,"grad":4.6,"mag":12},{"t":0.54,"eeg":4.4,"grad":5.2,"mag":11},{"t":0.55,"eeg":6.7,"grad":5.6,"mag":12},{"t":0.56,"eeg":5.4,"grad":5.0,"mag":11},{"t":0.57,"eeg":6.0,"grad":5.9,"mag":12},{"t":0.58,"eeg":4.8,"grad":6.2,"mag":11},{"t":0.59,"eeg":6.8,"grad":6.8,"mag":12},
{"t":0.60,"eeg":7.9,"grad":5.9,"mag":11},{"t":0.61,"eeg":9.2,"grad":6.1,"mag":12},{"t":0.62,"eeg":6.8,"grad":5.3,"mag":11},{"t":0.63,"eeg":5.5,"grad":5.6,"mag":12},{"t":0.64,"eeg":6.9,"grad":4.9,"mag":11},{"t":0.65,"eeg":7.0,"grad":4.7,"mag":10.5},{"t":0.66,"eeg":4.4,"grad":4.2,"mag":11},{"t":0.67,"eeg":2.8,"grad":3.6,"mag":9.8},{"t":0.68,"eeg":1.8,"grad":3.8,"mag":8.6},{"t":0.69,"eeg":3.2,"grad":3.3,"mag":7.5},
{"t":0.70,"eeg":5.5,"grad":2.9,"mag":8.8},{"t":0.71,"eeg":3.5,"grad":3.1,"mag":7.2},{"t":0.72,"eeg":1.6,"grad":2.5,"mag":6.5},{"t":0.73,"eeg":1.3,"grad":2.8,"mag":5.2},{"t":0.74,"eeg":2.4,"grad":2.5,"mag":7.6},{"t":0.75,"eeg":1.4,"grad":3.0,"mag":6.9},{"t":0.76,"eeg":1.2,"grad":3.3,"mag":8.1},{"t":0.77,"eeg":1.6,"grad":2.9,"mag":7.0},{"t":0.78,"eeg":1.3,"grad":3.1,"mag":10.6},{"t":0.79,"eeg":1.9,"grad":2.7,"mag":8.0},
{"t":0.80,"eeg":1.3,"grad":3.5,"mag":7.4},{"t":0.81,"eeg":1.5,"grad":3.2,"mag":6.6},{"t":0.82,"eeg":2.0,"grad":2.8,"mag":7.3},{"t":0.83,"eeg":1.4,"grad":3.0,"mag":6.2},{"t":0.84,"eeg":1.7,"grad":3.3,"mag":7.8},{"t":0.85,"eeg":1.2,"grad":2.9,"mag":6.5},{"t":0.86,"eeg":1.8,"grad":3.1,"mag":8.3},{"t":0.87,"eeg":1.3,"grad":2.7,"mag":7.0},{"t":0.88,"eeg":1.6,"grad":3.2,"mag":6.1},{"t":0.89,"eeg":1.4,"grad":3.0,"mag":7.6},
{"t":0.90,"eeg":1.8,"grad":3.1,"mag":5.8},{"t":0.91,"eeg":1.5,"grad":2.7,"mag":6.8},{"t":0.92,"eeg":1.2,"grad":3.3,"mag":7.9},{"t":0.93,"eeg":1.7,"grad":3.0,"mag":9.2},{"t":0.94,"eeg":1.3,"grad":2.8,"mag":8.4},{"t":0.95,"eeg":1.9,"grad":3.4,"mag":10.2},{"t":0.96,"eeg":1.4,"grad":3.1,"mag":11},{"t":0.97,"eeg":1.2,"grad":2.6,"mag":8.8},{"t":0.98,"eeg":1.6,"grad":3.0,"mag":7.4},{"t":0.99,"eeg":1.3,"grad":2.9,"mag":8.6},
{"t":1.00,"eeg":3.2,"grad":3.3,"mag":7.1},{"t":1.01,"eeg":4.8,"grad":3.6,"mag":8.9},{"t":1.02,"eeg":1.5,"grad":3.2,"mag":10.4},{"t":1.03,"eeg":3.9,"grad":3.8,"mag":11},{"t":1.04,"eeg":1.2,"grad":3.4,"mag":9.0},{"t":1.05,"eeg":3.7,"grad":3.0,"mag":7.2},{"t":1.06,"eeg":1.4,"grad":3.5,"mag":8.4},{"t":1.07,"eeg":4.2,"grad":3.7,"mag":10.8},{"t":1.08,"eeg":1.3,"grad":3.3,"mag":11},{"t":1.09,"eeg":4.6,"grad":3.9,"mag":9.5},
{"t":1.10,"eeg":1.2,"grad":3.2,"mag":8.0},{"t":1.11,"eeg":5.5,"grad":3.6,"mag":6.8},{"t":1.12,"eeg":1.5,"grad":3.4,"mag":8.7},{"t":1.13,"eeg":4.9,"grad":3.8,"mag":11},{"t":1.14,"eeg":1.3,"grad":3.3,"mag":9.3},{"t":1.15,"eeg":4.3,"grad":3.1,"mag":7.7},{"t":1.16,"eeg":1.2,"grad":3.5,"mag":10.0},{"t":1.17,"eeg":4.7,"grad":3.2,"mag":8.5},{"t":1.18,"eeg":1.6,"grad":3.6,"mag":6.3},{"t":1.19,"eeg":3.8,"grad":3.0,"mag":9.1},
{"t":1.20,"eeg":1.3,"grad":3.4,"mag":11},{"t":1.21,"eeg":4.4,"grad":3.1,"mag":8.2},{"t":1.22,"eeg":1.2,"grad":3.5,"mag":7.0},{"t":1.23,"eeg":4.9,"grad":3.2,"mag":9.6},{"t":1.24,"eeg":1.4,"grad":2.9,"mag":11},{"t":1.25,"eeg":2.4,"grad":3.3,"mag":8.4},{"t":1.26,"eeg":1.5,"grad":2.6,"mag":7.2},{"t":1.27,"eeg":1.2,"grad":3.0,"mag":9.0},{"t":1.28,"eeg":1.8,"grad":2.4,"mag":7.6},{"t":1.29,"eeg":1.3,"grad":2.9,"mag":8.8},
{"t":1.30,"eeg":1.9,"grad":2.6,"mag":6.9},{"t":1.31,"eeg":1.4,"grad":3.2,"mag":10.5},{"t":1.32,"eeg":2.0,"grad":2.8,"mag":8.1},{"t":1.33,"eeg":1.3,"grad":3.1,"mag":7.0},{"t":1.34,"eeg":1.7,"grad":2.7,"mag":9.3},{"t":1.35,"eeg":1.5,"grad":3.3,"mag":5.5},{"t":1.36,"eeg":2.2,"grad":3.0,"mag":7.8},{"t":1.37,"eeg":1.4,"grad":3.4,"mag":11},{"t":1.38,"eeg":2.7,"grad":3.1,"mag":8.5},{"t":1.39,"eeg":1.3,"grad":3.6,"mag":7.3},
{"t":1.40,"eeg":1.8,"grad":3.2,"mag":9.0},{"t":1.41,"eeg":1.2,"grad":3.5,"mag":7.7},{"t":1.42,"eeg":1.6,"grad":3.8,"mag":10.6},{"t":1.43,"eeg":1.4,"grad":3.4,"mag":8.3},{"t":1.44,"eeg":2.5,"grad":3.6,"mag":6.7},{"t":1.45,"eeg":1.3,"grad":3.2,"mag":8.9},{"t":1.46,"eeg":3.1,"grad":3.5,"mag":11},{"t":1.47,"eeg":1.4,"grad":3.1,"mag":9.4},{"t":1.48,"eeg":3.6,"grad":3.4,"mag":7.9},{"t":1.49,"eeg":1.2,"grad":3.0,"mag":8.6},
{"t":1.50,"eeg":3.3,"grad":3.3,"mag":10.2},{"t":1.51,"eeg":1.5,"grad":2.9,"mag":11},{"t":1.52,"eeg":3.5,"grad":3.2,"mag":8.7},{"t":1.53,"eeg":1.3,"grad":2.8,"mag":9.8},{"t":1.54,"eeg":2.9,"grad":3.1,"mag":11},{"t":1.55,"eeg":1.2,"grad":3.4,"mag":8.2},{"t":1.56,"eeg":3.4,"grad":3.0,"mag":9.5},{"t":1.57,"eeg":1.4,"grad":3.3,"mag":7.4},{"t":1.58,"eeg":3.0,"grad":2.9,"mag":8.6},{"t":1.59,"eeg":1.3,"grad":3.2,"mag":10.1},
{"t":1.60,"eeg":3.6,"grad":3.5,"mag":8.0},{"t":1.61,"eeg":1.2,"grad":3.1,"mag":11},{"t":1.62,"eeg":3.2,"grad":3.4,"mag":9.3},{"t":1.63,"eeg":1.5,"grad":3.0,"mag":11},{"t":1.64,"eeg":3.5,"grad":3.3,"mag":8.4},{"t":1.65,"eeg":1.3,"grad":3.6,"mag":9.7},{"t":1.66,"eeg":2.8,"grad":3.2,"mag":11},{"t":1.67,"eeg":1.4,"grad":3.5,"mag":8.9},{"t":1.68,"eeg":3.3,"grad":3.1,"mag":10.3},{"t":1.69,"eeg":1.2,"grad":3.4,"mag":11},
{"t":1.70,"eeg":3.0,"grad":3.0,"mag":8.5},{"t":1.71,"eeg":1.5,"grad":3.3,"mag":9.2},{"t":1.72,"eeg":3.4,"grad":3.1,"mag":7.6},{"t":1.73,"eeg":1.3,"grad":3.5,"mag":8.8},{"t":1.74,"eeg":2.9,"grad":3.2,"mag":10.0},{"t":1.75,"eeg":1.4,"grad":3.6,"mag":8.2},{"t":1.76,"eeg":2.6,"grad":3.3,"mag":11},{"t":1.77,"eeg":1.3,"grad":3.0,"mag":8.0},{"t":1.78,"eeg":2.4,"grad":3.4,"mag":7.3},{"t":1.79,"eeg":1.4,"grad":2.0,"mag":3.0},
{"t":1.80,"eeg":1.2,"grad":1.3,"mag":1.6},{"t":1.81,"eeg":1.0,"grad":1.2,"mag":2.0},{"t":1.82,"eeg":1.1,"grad":1.4,"mag":1.5},{"t":1.83,"eeg":0.9,"grad":1.1,"mag":1.9},{"t":1.84,"eeg":1.0,"grad":1.3,"mag":1.4},{"t":1.85,"eeg":0.8,"grad":1.2,"mag":2.2},{"t":1.86,"eeg":1.1,"grad":1.5,"mag":1.6},{"t":1.87,"eeg":0.9,"grad":1.2,"mag":1.8},{"t":1.88,"eeg":1.0,"grad":1.3,"mag":1.5},{"t":1.89,"eeg":1.2,"grad":1.1,"mag":2.1},
{"t":1.90,"eeg":0.8,"grad":1.4,"mag":1.7},{"t":1.91,"eeg":1.0,"grad":1.2,"mag":1.4},{"t":1.92,"eeg":0.9,"grad":1.3,"mag":2.0},{"t":1.93,"eeg":1.1,"grad":1.5,"mag":1.6},{"t":1.94,"eeg":0.7,"grad":1.2,"mag":1.9},{"t":1.95,"eeg":1.0,"grad":1.3,"mag":1.5},{"t":1.96,"eeg":0.9,"grad":1.1,"mag":2.2},{"t":1.97,"eeg":1.1,"grad":1.4,"mag":1.7},{"t":1.98,"eeg":0.8,"grad":1.2,"mag":1.6},{"t":1.99,"eeg":1.0,"grad":1.3,"mag":2.0},{"t":2.00,"eeg":1.1,"grad":1.4,"mag":1.8}
 ]
},
"vconcat": [
 {
  "width": 682, "height": 147,
  "layer": [
   {"data": {"name": "p1"},
    "mark": {"type": "area", "color": "black", "clip": true},
    "encoding": {
     "x": {"field": "t", "type": "quantitative", "scale": {"domain": [-0.2, 1.998], "nice": false, "zero": false}, "axis": {"values": [0, 0.25, 0.5, 0.75, 1, 1.25, 1.5, 1.75], "labels": false, "title": null}},
     "y": {"field": "hi", "type": "quantitative", "scale": {"domain": [-7.37, 10.69], "nice": false, "zero": false}, "axis": {"values": [-5, 0, 5, 10], "title": "NA", "labelFontSize": 13, "titleFontSize": 13.9, "labelOverlap": false, "labelFlush": false}},
     "y2": {"field": "lo"}
    }},
   {"data": {"values": [{"v": 1.96}, {"v": -1.96}]},
    "mark": {"type": "rule", "color": "red", "strokeWidth": 2, "strokeDash": [7.4, 3.2]},
    "encoding": {"y": {"field": "v", "type": "quantitative", "axis": {"values": [-5, 0, 5, 10], "title": "NA", "labelFontSize": 13, "titleFontSize": 13.9, "labelOverlap": false, "labelFlush": false}}}},
   {"data": {"values": [{"s": "EEG (59 channels)"}]},
    "mark": {"type": "text", "align": "center", "baseline": "alphabetic", "fontSize": 16.6, "dy": -8.3, "color": "black"},
    "encoding": {"x": {"datum": 0.899}, "y": {"datum": 10.69}, "text": {"field": "s"}}},
   {"data": {"values": [{"s": "N"}]},
    "mark": {"type": "text", "align": "left", "baseline": "alphabetic", "fontSize": 13.9, "dy": -10.7, "color": "black"},
    "encoding": {"x": {"datum": -0.2}, "y": {"datum": 10.69}, "text": {"field": "s"}}},
   {"data": {"values": [{"s": "ave"}]},
    "mark": {"type": "text", "align": "left", "baseline": "alphabetic", "fontSize": 9.7, "dx": 10.4, "dy": -8.4, "color": "black"},
    "encoding": {"x": {"datum": -0.2}, "y": {"datum": 10.69}, "text": {"field": "s"}}},
   {"data": {"values": [{"s": "=8"}]},
    "mark": {"type": "text", "align": "left", "baseline": "alphabetic", "fontSize": 13.9, "dx": 28, "dy": -10.7, "color": "black"},
    "encoding": {"x": {"datum": -0.2}, "y": {"datum": 10.69}, "text": {"field": "s"}}}
  ]
 },
 {
  "width": 682, "height": 147,
  "title": "Gradiometers (203 channels)",
  "layer": [
   {"data": {"name": "p2"},
    "mark": {"type": "area", "color": "black", "clip": true},
    "encoding": {
     "x": {"field": "t", "type": "quantitative", "scale": {"domain": [-0.2, 1.998], "nice": false, "zero": false}, "axis": {"values": [0, 0.25, 0.5, 0.75, 1, 1.25, 1.5, 1.75], "labels": false, "title": null}},
     "y": {"field": "hi", "type": "quantitative", "scale": {"domain": [-11.7, 9.64], "nice": false, "zero": false}, "axis": {"values": [-10, -5, 0, 5], "title": "NA", "labelFontSize": 13, "titleFontSize": 13.9, "labelOverlap": false, "labelFlush": false}},
     "y2": {"field": "lo"}
    }},
   {"data": {"values": [{"v": 1.96}, {"v": -1.96}]},
    "mark": {"type": "rule", "color": "red", "strokeWidth": 2, "strokeDash": [7.4, 3.2]},
    "encoding": {"y": {"field": "v", "type": "quantitative", "axis": {"values": [-10, -5, 0, 5], "title": "NA", "labelFontSize": 13, "titleFontSize": 13.9, "labelOverlap": false, "labelFlush": false}}}}
  ]
 },
 {
  "width": 682, "height": 147,
  "title": "Magnetometers (102 channels)",
  "layer": [
   {"data": {"name": "p3"},
    "mark": {"type": "area", "color": "black", "clip": true},
    "encoding": {
     "x": {"field": "t", "type": "quantitative", "scale": {"domain": [-0.2, 1.998], "nice": false, "zero": false}, "axis": {"values": [0, 0.25, 0.5, 0.75, 1, 1.25, 1.5, 1.75], "labels": false, "title": "Time (s)", "titleFontSize": 13.9, "titleY": 14, "titleBaseline": "alphabetic"}},
     "y": {"field": "hi", "type": "quantitative", "scale": {"domain": [-13.17, 13.12], "nice": false, "zero": false}, "axis": {"values": [-10, 0, 10], "title": "NA", "labelFontSize": 13, "titleFontSize": 13.9, "labelOverlap": false, "labelFlush": false}},
     "y2": {"field": "lo"}
    }},
   {"data": {"values": [{"v": 1.96}, {"v": -1.96}]},
    "mark": {"type": "rule", "color": "red", "strokeWidth": 2, "strokeDash": [7.4, 3.2]},
    "encoding": {"y": {"field": "v", "type": "quantitative", "axis": {"values": [-10, 0, 10], "title": "NA", "labelFontSize": 13, "titleFontSize": 13.9, "labelOverlap": false, "labelFlush": false}}}}
  ]
 },
 {
  "width": 682, "height": 147,
  "title": "Whitened GFP, method = \"empirical\"",
  "layer": [
   {"data": {"name": "gfp"},
    "transform": [{"fold": ["eeg", "grad", "mag"], "as": ["k", "v"]}],
    "mark": {"type": "line", "strokeWidth": 0.8, "clip": true},
    "encoding": {
     "x": {"field": "t", "type": "quantitative", "scale": {"domain": [-0.2, 1.998], "nice": false, "zero": false}, "axis": {"values": [0, 0.25, 0.5, 0.75, 1, 1.25, 1.5, 1.75], "format": ".2f", "title": "Time (s)", "labelFontSize": 13, "titleFontSize": 13.9, "labelOverlap": false, "labelFlush": false}},
     "y": {"field": "v", "type": "quantitative", "scale": {"domain": [0, 10], "nice": false}, "axis": {"values": [0, 2, 4, 6, 8, 10], "title": "GFP (χ²)", "labelFontSize": 13, "titleFontSize": 13.9, "labelOverlap": false, "labelFlush": false}},
     "color": {"field": "k", "type": "nominal", "scale": {"domain": ["eeg", "grad", "mag"], "range": ["black", "blue", "darkblue"]},
      "legend": {"title": null, "orient": "none", "legendX": 512, "legendY": 23, "labelExpr": "datum.label == 'eeg' ? 'eeg (58)' : datum.label == 'grad' ? 'grad (203)' : 'mag (99)'", "symbolType": "M-1.07,0L3.64,0", "symbolSize": 196, "symbolStrokeWidth": 1, "labelFontSize": 16.4, "labelColor": "black", "rowPadding": 9.6, "padding": 7, "labelOffset": 31, "fillColor": "rgba(255,255,255,0.8)", "strokeColor": "#cccccc", "cornerRadius": 3}}
    }},
   {"data": {"values": [{"v": 1}]},
    "mark": {"type": "rule", "color": "red", "strokeWidth": 2, "strokeDash": [7.4, 3.2]},
    "encoding": {"y": {"field": "v", "type": "quantitative", "axis": {"values": [0, 2, 4, 6, 8, 10], "title": "GFP (χ²)", "labelFontSize": 13, "titleFontSize": 13.9, "labelOverlap": false, "labelFlush": false}}}}
  ]
 }
]
}
